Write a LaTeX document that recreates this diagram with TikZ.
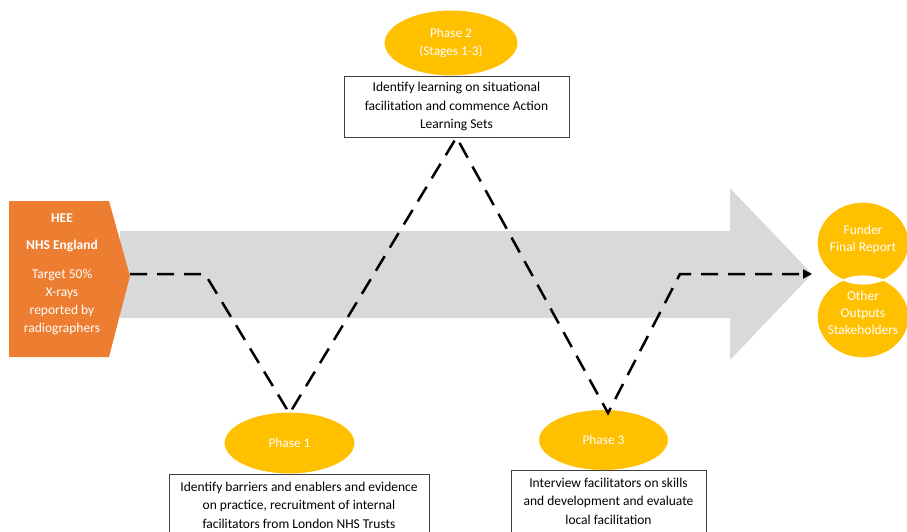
\documentclass[tikz,border=0pt]{standalone}
\usepackage{fontspec}
\setmainfont{Carlito}
\usetikzlibrary{shapes.geometric,arrows.meta}
\definecolor{hOrange}{HTML}{ED7D31}
\definecolor{hGold}{HTML}{FFC000}
\definecolor{hGray}{HTML}{D9D9D9}
\definecolor{hBorder}{HTML}{404040}
\begin{document}
\begin{tikzpicture}[x=1pt,y=-1pt,
  phase/.style={ellipse,fill=hGold,draw=white,line width=1pt,text=white,font=\fontsize{13.3}{18}\selectfont,align=center,inner sep=0pt},
  desc/.style={rectangle,draw=hBorder,line width=0.8pt,fill=white,font=\fontsize{13.5}{18.6}\selectfont,align=center,inner sep=0pt},
  outtext/.style={text=white,font=\fontsize{13.5}{16.8}\selectfont,align=center,inner sep=0pt},
  dashline/.style={line width=2.5pt,dash pattern=on 17pt off 10pt,black}]
\useasboundingbox (0,0) rectangle (907,531);
\clip (0,0) rectangle (907,531);
% grey arrow
\fill[hGray] (120,231) -- (730,231) -- (730,188) -- (812,274) -- (730,360) -- (730,318) -- (120,318) -- cycle;
\coordinate (gtip) at (812,274);
% orange pentagon
\fill[hOrange] (9,201) -- (109,201) -- (130,276) -- (109,357) -- (9,357) -- cycle;
\coordinate (otip) at (130,274);
\node[text=white,font=\fontsize{13.5}{18}\selectfont\bfseries] (hee) at (62,218) {HEE};
\node[text=white,font=\fontsize{13.5}{18}\selectfont\bfseries] (nhs) at (62,246) {NHS England};
\node[text=white,font=\fontsize{13.5}{17.8}\selectfont,align=center] (target) at (62,302) {Target 50\%\\X-rays\\reported by\\radiographers};
% outcomes
\fill[hGold] (863,243) ellipse (46pt and 41pt);
\fill[hGold] (863,317) ellipse (46pt and 41pt);
\begin{scope}
  \clip (863,243) ellipse (46pt and 41pt);
  \fill[white] (863,317) ellipse (46pt and 41pt);
\end{scope}
\draw[white,line width=1.2pt] (863,243) ellipse (46pt and 41pt);
\draw[white,line width=1.2pt] (863,317) ellipse (46pt and 41pt);
\node[outtext] (funder) at (863,239) {Funder\\Final Report};
\node[outtext] (other) at (863,313) {Other\\Outputs\\Stakeholders};
% phase 2
\node[phase,minimum width=134pt,minimum height=66pt] (ph2) at (451,43) {Phase 2\\(Stages 1-3)};
\node[desc,minimum width=225pt,minimum height=61pt] (box2) at (456.5,106.5) {Identify learning on situational\\facilitation and commence Action\\Learning Sets};
% phase 1
\node[phase,minimum width=131pt,minimum height=62pt] (ph1) at (289.5,443) {Phase 1};
\node[desc,minimum width=260pt,minimum height=62pt] (box1) at (299,505) {Identify barriers and enablers and evidence\\on practice, recruitment of internal\\facilitators from London NHS Trusts};
% phase 3
\node[phase,minimum width=130pt,minimum height=61pt] (ph3) at (603.5,440) {Phase 3};
\node[desc,minimum width=195pt,minimum height=62pt] (box3) at (608.5,501) {Interview facilitators on skills\\and development and evaluate\\local facilitation};
% dashed path
\coordinate (k1) at (205,274);
\coordinate (v1) at ([yshift=-2pt]ph1.north);
\coordinate (v3) at (608,413);
\coordinate (k2) at (680,274);
\draw[dashline,-{Triangle[length=9pt,width=9pt]}] (otip) -- (k1) -- (v1) -- (box2.south) -- (v3) -- (k2) -- (gtip);
\end{tikzpicture}
\end{document}
